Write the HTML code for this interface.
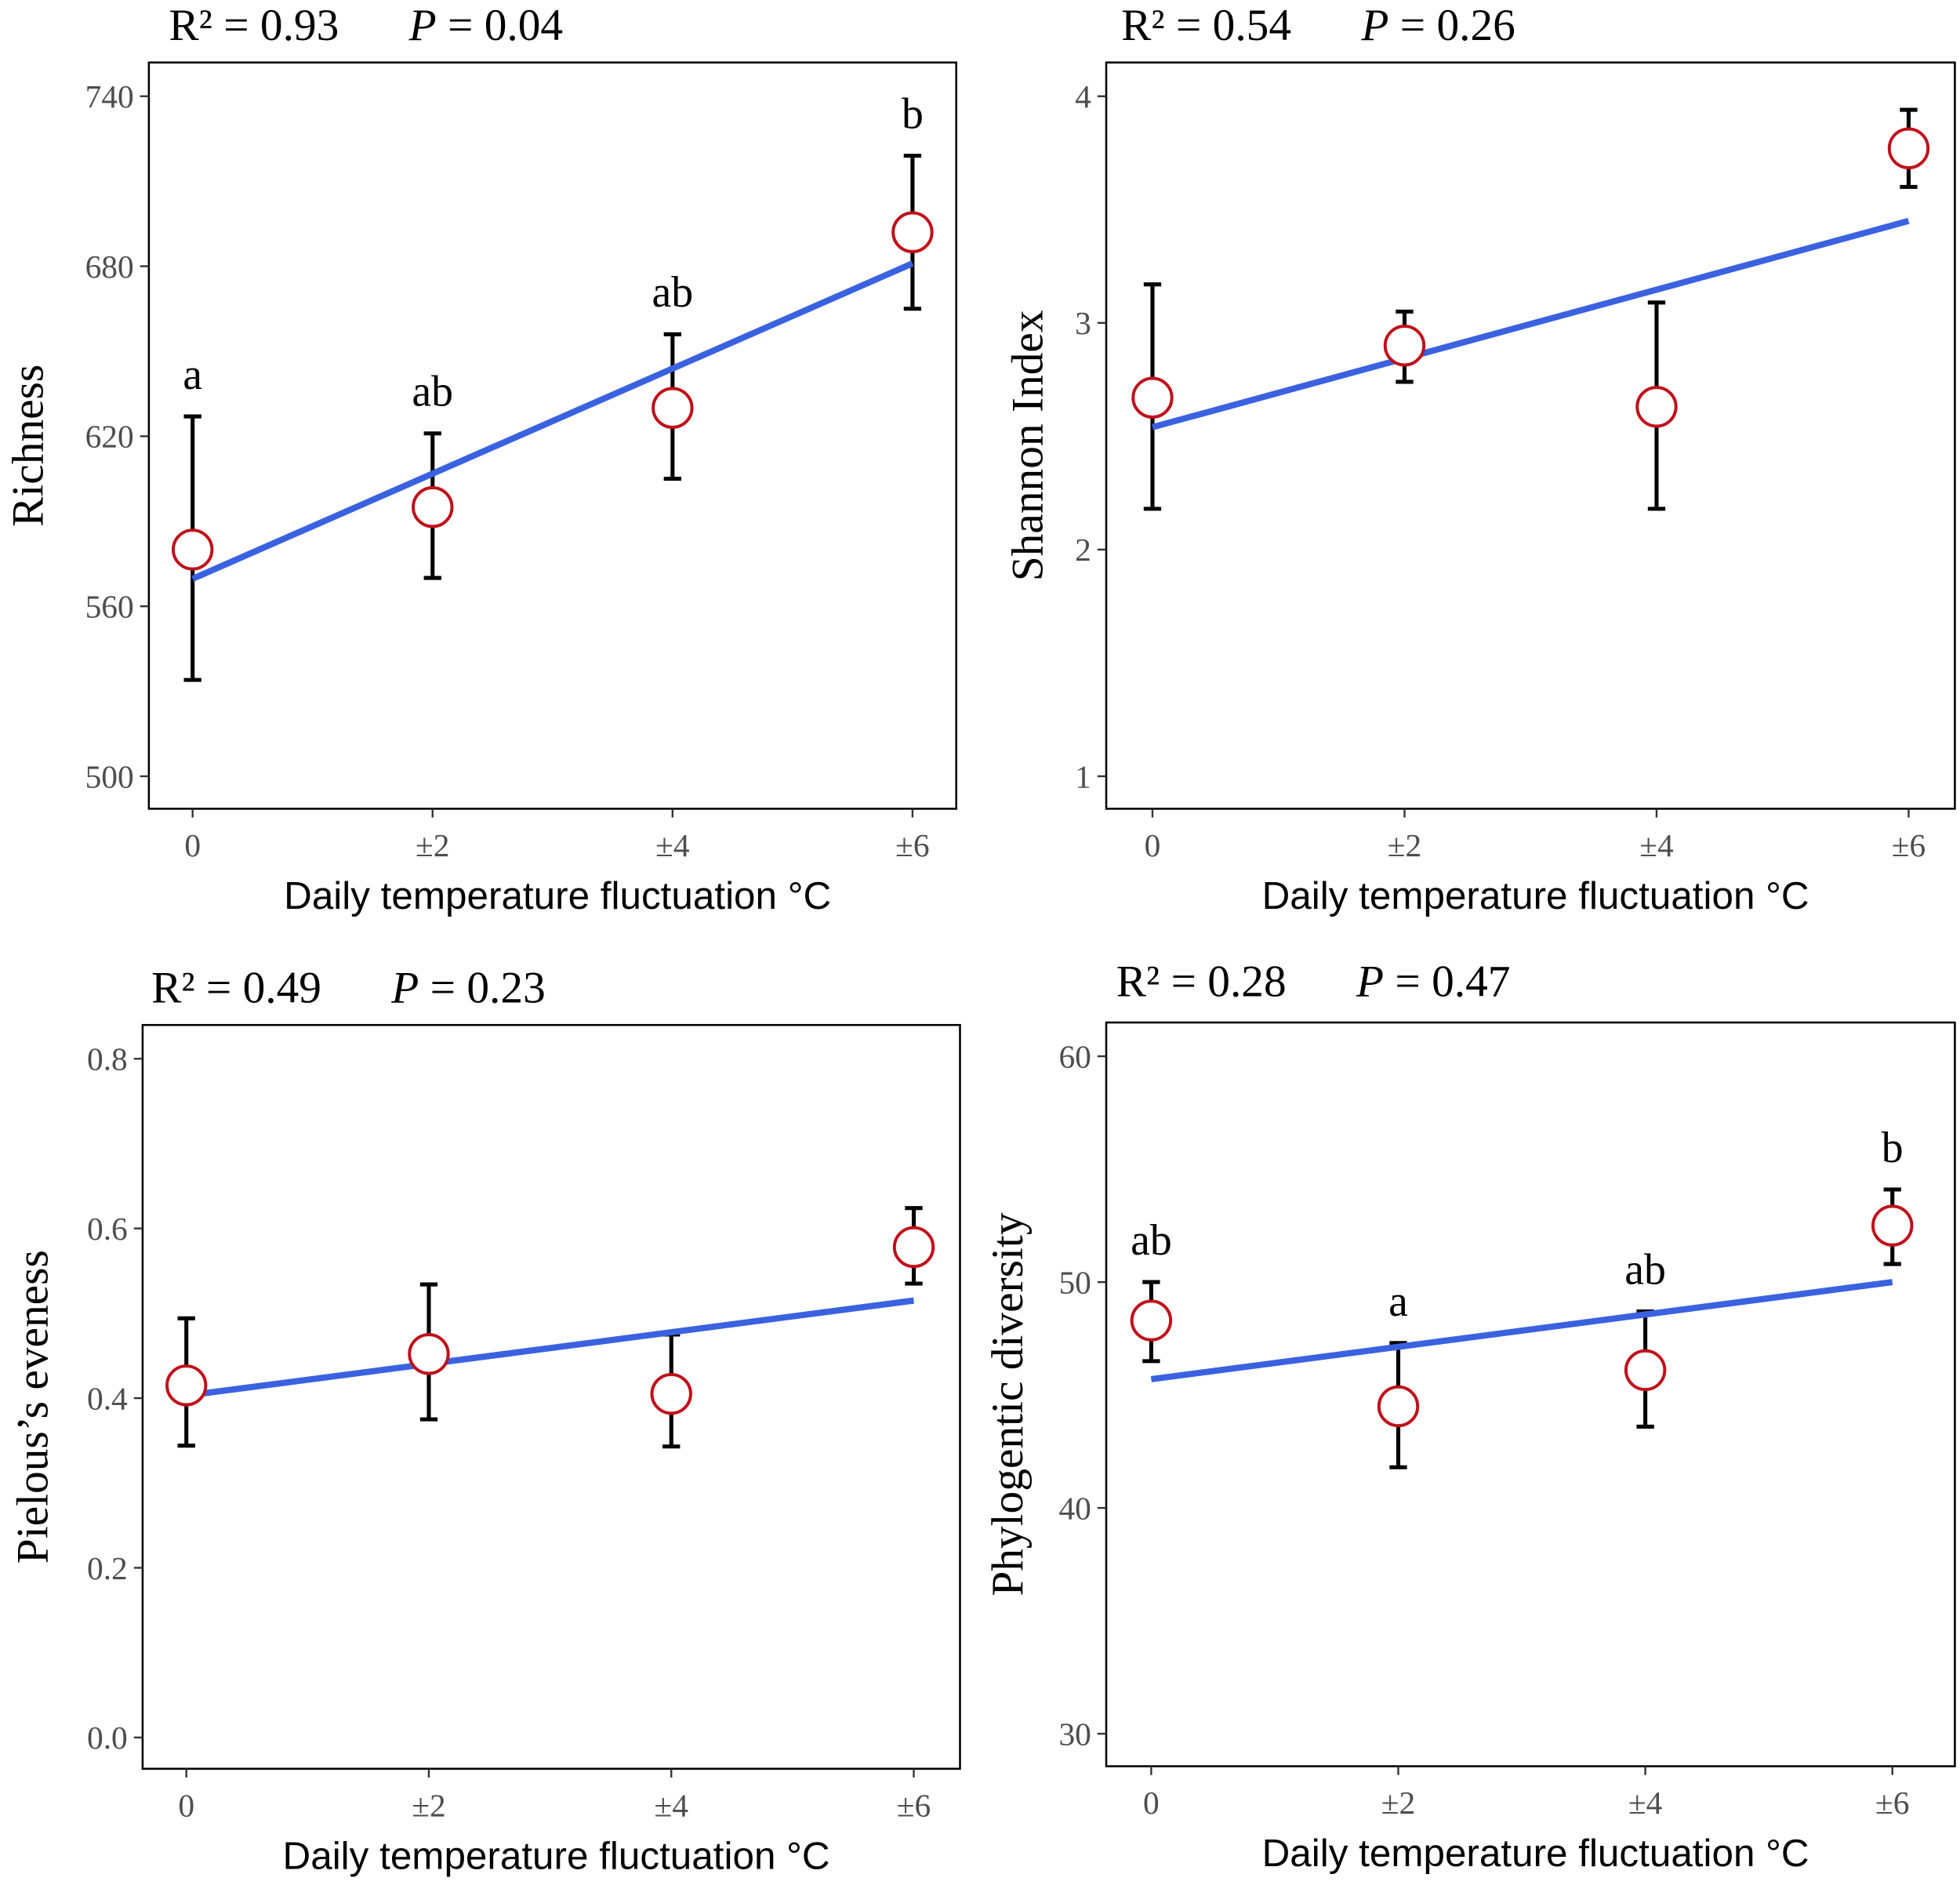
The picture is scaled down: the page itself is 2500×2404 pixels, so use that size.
<!DOCTYPE html>
<html><head><meta charset="utf-8"><style>html,body{margin:0;padding:0;background:#fff}svg{display:block}</style></head>
<body>
<svg id="chart" width="2500" height="2404" viewBox="0 0 1568 1508" xmlns="http://www.w3.org/2000/svg" font-family="'Liberation Serif', serif"></svg>
<script>
const categories = ["0","±2","±4","±6"];
const richnessMean = [580, 595, 630, 692];
const richnessLo = [534, 570, 605, 665];
const richnessHi = [627, 621, 656, 719];
const richnessFit = [569.7, 681];
const richnessTicks = [500, 560, 620, 680, 740];
const richnessLetters = ["a","ab","ab","b"];
const shannonMean = [2.67, 2.9, 2.63, 3.77];
const shannonLo = [2.18, 2.74, 2.18, 3.6];
const shannonHi = [3.17, 3.05, 3.09, 3.94];
const shannonFit = [2.54, 3.45];
const shannonTicks = [1, 2, 3, 4];
const evenMean = [0.415, 0.452, 0.405, 0.578];
const evenLo = [0.344, 0.375, 0.343, 0.535];
const evenHi = [0.494, 0.534, 0.475, 0.624];
const evenFit = [0.403, 0.515];
const evenTicks = [0.0, 0.2, 0.4, 0.6, 0.8];
const pdMean = [48.3, 44.5, 46.1, 52.5];
const pdLo = [46.5, 41.8, 43.6, 50.8];
const pdHi = [50.0, 47.3, 48.7, 54.1];
const pdFit = [45.7, 50.0];
const pdTicks = [30, 40, 50, 60];
const pdLetters = ["ab","a","ab","b"];
const statsR2 = ["0.93","0.54","0.49","0.28"];
const statsP = ["0.04","0.26","0.23","0.47"];

const NS="http://www.w3.org/2000/svg";
const svg=document.getElementById('chart');
function mk(tag,attrs,parent){const e=document.createElementNS(NS,tag);for(const k in attrs)e.setAttribute(k,attrs[k]);(parent||svg).appendChild(e);return e;}

const panels=[
 {name:'richness',fx:119,fy:50,fw:646,fh:597,x0:154,x1:730,y0v:500,y0p:621,y1v:740,y1p:77,mean:richnessMean,lo:richnessLo,hi:richnessHi,fit:richnessFit,ticks:richnessTicks,fmt:v=>String(v),ytitle:'Richness',letters:richnessLetters,sx:135,sy:32,si:0,ytx:34},
 {name:'shannon',fx:885,fy:50,fw:679,fh:597,x0:922,x1:1527,y0v:1,y0p:621,y1v:4,y1p:77,mean:shannonMean,lo:shannonLo,hi:shannonHi,fit:shannonFit,ticks:shannonTicks,fmt:v=>String(v),ytitle:'Shannon Index',letters:null,sx:897,sy:32,si:1,ytx:834},
 {name:'evenness',fx:114,fy:820,fw:654,fh:595,x0:149,x1:731,y0v:0,y0p:1390,y1v:0.8,y1p:847,mean:evenMean,lo:evenLo,hi:evenHi,fit:evenFit,ticks:evenTicks,fmt:v=>v.toFixed(1),ytitle:'Pielous’s eveness',letters:null,sx:121,sy:802,si:2,ytx:38},
 {name:'phylo',fx:885,fy:818,fw:679,fh:595,x0:921,x1:1514,y0v:30,y0p:1387,y1v:60,y1p:845,mean:pdMean,lo:pdLo,hi:pdHi,fit:pdFit,ticks:pdTicks,fmt:v=>String(v),ytitle:'Phylogentic diversity',letters:pdLetters,sx:893,sy:797,si:3,ytx:818}
];

panels.forEach(p=>{
 const g=mk('g',{});
 
 
 const xs=i=>p.x0+(p.x1-p.x0)*i/(categories.length-1);
 const ys=v=>p.y0p+(v-p.y0v)*(p.y1p-p.y0p)/(p.y1v-p.y0v);
 const fr=mk('rect',{x:p.fx,y:p.fy,width:p.fw,height:p.fh,fill:'none',stroke:'#000','stroke-width':1.6},g);
 
 
 p.ticks.forEach(t=>{
  mk('line',{x1:p.fx-7,x2:p.fx,y1:ys(t),y2:ys(t),stroke:'#333','stroke-width':1.5},g);
  const tl=mk('text',{x:p.fx-12,y:ys(t)+9,'text-anchor':'end','font-size':26,fill:'#4d4d4d'},g);
  tl.textContent=p.fmt(t);
  
  
 });
 categories.forEach((c,i)=>{
  mk('line',{x1:xs(i),x2:xs(i),y1:p.fy+p.fh,y2:p.fy+p.fh+7,stroke:'#333','stroke-width':1.5},g);
  const tl=mk('text',{x:xs(i),y:p.fy+p.fh+38,'text-anchor':'middle','font-size':26,fill:'#4d4d4d'},g);
  tl.textContent=c;
  
  
 });
 const xt=mk('text',{x:p.fx+p.fw/2+4,y:p.fy+p.fh+80,'text-anchor':'middle','font-size':31,'font-family':"'Liberation Sans', sans-serif"},g);
 xt.textContent='Daily temperature fluctuation °C';
 
 
 const yc=p.fy+p.fh/2+8;
 const yt=mk('text',{x:p.ytx,y:yc,'text-anchor':'middle','font-size':36,transform:`rotate(-90 ${p.ytx} ${yc})`},g);
 yt.textContent=p.ytitle;
 
 
 const st=mk('text',{x:p.sx,y:p.sy,'font-size':36},g);
 st.innerHTML=`R² = ${statsR2[p.si]}<tspan dx="56" font-style="italic">P</tspan> = ${statsP[p.si]}`;
 
 
 p.mean.forEach((m,i)=>{
  const x=xs(i);
  const eb=mk('path',{d:`M${x},${ys(p.lo[i])}V${ys(p.hi[i])}M${x-7},${ys(p.lo[i])}H${x+7}M${x-7},${ys(p.hi[i])}H${x+7}`,stroke:'#000','stroke-width':3.2,fill:'none'},g);
  
  
 });
 const ln=mk('line',{x1:xs(0),x2:xs(categories.length-1),y1:ys(p.fit[0]),y2:ys(p.fit[1]),stroke:'#3a62e0','stroke-width':5},g);
 
 
 p.mean.forEach((m,i)=>{
  const c=mk('circle',{cx:xs(i),cy:ys(m),r:15.5,fill:'#fff',stroke:'#c0101a','stroke-width':2.5},g);
  
  
  if(p.letters){
   const lt=mk('text',{x:xs(i),y:ys(p.hi[i])-22,'text-anchor':'middle','font-size':35},g);
   lt.textContent=p.letters[i];
   
   
  }
 });
});
</script>
</body></html>
